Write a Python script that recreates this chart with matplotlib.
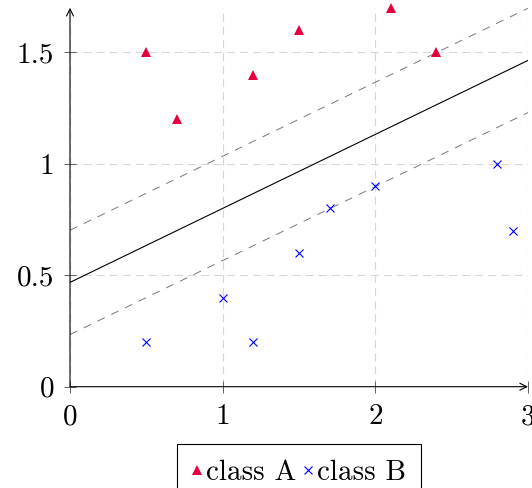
import matplotlib
matplotlib.use("Agg")
import matplotlib.pyplot as plt
import numpy as np

plt.rcParams["font.family"] = ["cmr10", "DejaVu Serif"]
plt.rcParams["axes.formatter.use_mathtext"] = True
plt.rcParams["lines.scale_dashes"] = False

# Training points of the two classes
class_a_x = [0.5, 0.7, 1.2, 1.5, 2.1, 2.4]
class_a_y = [1.5, 1.2, 1.4, 1.6, 1.7, 1.5]
class_b_x = [0.5, 1.0, 1.2, 1.5, 1.7, 2.0, 2.8, 2.9]
class_b_y = [0.2, 0.4, 0.2, 0.6, 0.8, 0.9, 1.0, 0.7]

# Separating line y = slope * x + intercept and its margin
slope = 0.332
intercept = 0.468
margin = 0.234

x_ticks = [0, 1, 2, 3]
x_tick_labels = ["0", "1", "2", "3"]
y_ticks = [0, 0.5, 1, 1.5]
y_tick_labels = ["0", "0.5", "1", "1.5"]

RED = "#E4003A"
BLUE = "#0000FF"
FS = 21

fig = plt.figure(figsize=(5.32, 4.88), dpi=100)
ax = fig.add_axes([70 / 532, 1 - 386.7 / 488, 458 / 532, (386.7 - 7.8) / 488])
ax.set_xlim(0, 3)
ax.set_ylim(0, 1.7)

# grid
ax.set_axisbelow(True)
ax.grid(True, color="#d6d6d6", linewidth=0.8, dashes=(5.8, 3.6))

xs = np.array([0.0, 3.0])
ax.plot(xs, slope * xs + intercept, color="black", lw=0.8, zorder=2)
ax.plot(xs, slope * xs + intercept + margin, color="#808080", lw=0.75,
        dashes=(5.8, 5.2), zorder=2)
ax.plot(xs, slope * xs + intercept - margin, color="#808080", lw=0.75,
        dashes=(5.8, 5.2), zorder=2)

ax.plot(class_a_x, class_a_y, linestyle="none", marker="^", ms=7.2,
        color=RED, mew=0, label="class A", zorder=3, clip_on=False)
ax.plot(class_b_x, class_b_y, linestyle="none", marker="x", ms=6.0,
        color=BLUE, mew=0.8, label="class B", zorder=3, clip_on=False)

for s in ax.spines.values():
    s.set_visible(False)

arrow = dict(arrowstyle="->,head_length=0.5,head_width=0.25", lw=0.8,
             color="black", shrinkA=0, shrinkB=0)
ax.annotate("", xy=(1, 0), xytext=(0, 0), xycoords="axes fraction",
            textcoords="axes fraction", arrowprops=arrow)
ax.annotate("", xy=(0, 1), xytext=(0, 0), xycoords="axes fraction",
            textcoords="axes fraction", arrowprops=arrow)

ax.set_xticks(x_ticks)
ax.set_xticklabels(x_tick_labels)
ax.set_yticks(y_ticks)
ax.set_yticklabels(y_tick_labels)
ax.tick_params(axis="both", direction="inout", length=8, width=0.7,
               color="#606060", labelsize=FS)
ax.tick_params(axis="x", pad=8.5)
ax.tick_params(axis="y", pad=7.5)
ax.tick_params(top=False, right=False)

leg = fig.legend(loc="upper center", bbox_to_anchor=(299 / 532, 1 - 444.3 / 488),
                 ncol=2, fontsize=FS, frameon=True, fancybox=False,
                 edgecolor="black", framealpha=1, borderpad=0.52,
                 handlelength=0.35, handletextpad=0.14, columnspacing=0.22,
                 borderaxespad=0)
leg.get_frame().set_linewidth(0.8)

fig.savefig("out.png", dpi=100)
